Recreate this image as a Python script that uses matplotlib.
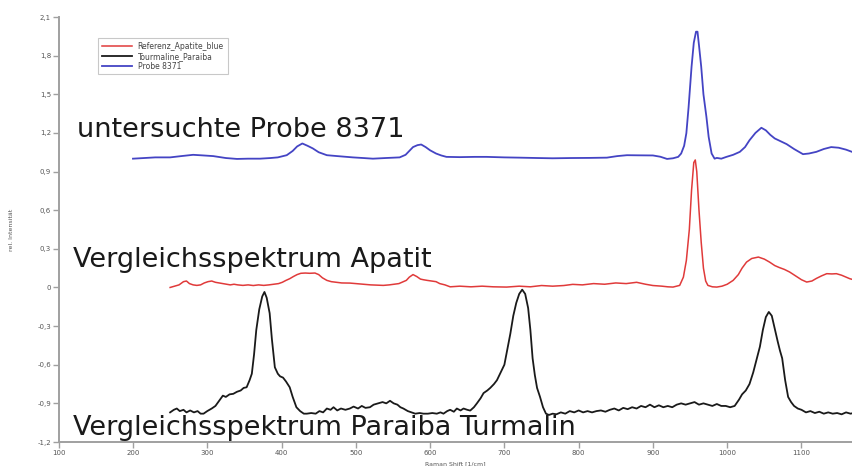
import matplotlib
matplotlib.use("Agg")
import matplotlib.pyplot as plt
from matplotlib.ticker import FuncFormatter, MultipleLocator

# Probe 8371 (blue)
probe_x = [200, 215, 230, 250, 265, 281, 295, 308, 325, 340, 355, 371, 385, 395,
           407, 415, 421, 428, 435, 442, 450, 461, 475, 496, 510, 523, 540, 559,
           567, 572, 577, 583, 588, 594, 600, 608, 615, 622, 640, 660, 676, 700,
           720, 745, 765, 790, 815, 838, 852, 865, 880, 900, 910, 919, 927, 934,
           938, 942, 945, 948, 952, 955, 958, 960, 962, 965, 968, 972, 975, 979,
           983, 986, 992, 999, 1008, 1017, 1024, 1030, 1038, 1046, 1052, 1058,
           1064, 1072, 1080, 1090, 1102, 1110, 1120, 1130, 1140, 1150, 1160, 1168]
probe_y = [1.0, 1.005, 1.01, 1.01, 1.02, 1.03, 1.025, 1.02, 1.005, 0.998, 1.0, 1.0,
           1.005, 1.01, 1.027, 1.06, 1.095, 1.118, 1.1, 1.08, 1.05, 1.027, 1.02,
           1.01, 1.005, 1.0, 1.005, 1.01, 1.03, 1.06, 1.09, 1.105, 1.11, 1.09,
           1.065, 1.04, 1.025, 1.014, 1.012, 1.014, 1.014, 1.01, 1.008, 1.005,
           1.003, 1.005, 1.006, 1.008, 1.02, 1.027, 1.026, 1.025, 1.015, 0.998,
           1.003, 1.014, 1.04, 1.1, 1.198, 1.4, 1.714, 1.9, 1.986, 1.986, 1.88,
           1.714, 1.5, 1.325, 1.17, 1.04, 1.0, 1.006, 1.0, 1.014, 1.03, 1.053,
           1.09, 1.143, 1.2, 1.24, 1.22, 1.185, 1.157, 1.135, 1.113, 1.075, 1.035,
           1.04, 1.053, 1.075, 1.09, 1.085, 1.07, 1.053]

# Referenz Apatit (red)
apatit_x = [250, 256, 262, 268, 272, 276, 281, 286, 291, 296, 301, 306, 311, 316,
            321, 326, 331, 336, 341, 348, 355, 362, 369, 376, 383, 390, 396, 401,
            406, 411, 416, 421, 426, 432, 438, 445, 450, 455, 461, 467, 474, 481,
            492, 500, 510, 520, 530, 537, 545, 552, 558, 564, 568, 572, 577, 582,
            587, 591, 596, 602, 608, 613, 620, 627, 640, 655, 670, 685, 703, 720,
            735, 750, 765, 780, 792, 805, 820, 835, 850, 864, 878, 890, 900, 912,
            920, 927, 936, 941, 945, 949, 952, 955, 957, 959, 962, 965, 968, 971,
            974, 980, 986, 993, 1000, 1008, 1015, 1020, 1026, 1033, 1042, 1050,
            1057, 1064, 1070, 1077, 1084, 1092, 1100, 1107, 1114, 1120, 1127, 1134,
            1141, 1147, 1154, 1160, 1165, 1170]
apatit_y = [0.0, 0.01, 0.02, 0.045, 0.05, 0.03, 0.02, 0.016, 0.02, 0.035, 0.045,
            0.05, 0.04, 0.035, 0.03, 0.025, 0.02, 0.025, 0.02, 0.016, 0.02, 0.015,
            0.02, 0.016, 0.02, 0.025, 0.03, 0.04, 0.055, 0.068, 0.085, 0.1, 0.11,
            0.112, 0.11, 0.112, 0.1, 0.075, 0.055, 0.045, 0.04, 0.035, 0.034, 0.03,
            0.025, 0.02, 0.018, 0.016, 0.02, 0.025, 0.03, 0.045, 0.055, 0.08, 0.1,
            0.085, 0.065, 0.06, 0.055, 0.05, 0.045, 0.03, 0.02, 0.005, 0.01, 0.005,
            0.01, 0.005, 0.003, 0.01, 0.005, 0.015, 0.01, 0.015, 0.024, 0.02, 0.03,
            0.025, 0.035, 0.03, 0.04, 0.025, 0.015, 0.01, 0.005, 0.003, 0.016, 0.08,
            0.21, 0.45, 0.755, 0.97, 0.99, 0.9, 0.6, 0.35, 0.15, 0.05, 0.016, 0.005,
            0.003, 0.01, 0.025, 0.055, 0.1, 0.15, 0.197, 0.225, 0.236, 0.22, 0.197,
            0.17, 0.155, 0.14, 0.12, 0.09, 0.06, 0.042, 0.05, 0.07, 0.09, 0.107,
            0.105, 0.107, 0.095, 0.08, 0.068, 0.06]

# Tourmaline Paraiba (black)
turmalin_x = [250, 255, 259, 263, 268, 272, 277, 282, 287, 291, 295, 300, 306, 311,
              316, 321, 325, 330, 335, 340, 345, 349, 353, 357, 360, 363, 366, 370,
              374, 377, 380, 384, 387, 391, 395, 398, 402, 406, 411, 415, 420, 425,
              430, 434, 440, 446, 451, 456, 461, 466, 470, 475, 480, 486, 492, 497,
              503, 508, 513, 519, 524, 530, 536, 541, 546, 551, 556, 560, 564, 570,
              575, 580, 586, 591, 597, 603, 609, 614, 618, 623, 627, 632, 636, 641,
              645, 650, 654, 659, 663, 668, 672, 677, 681, 686, 690, 695, 700, 704,
              708, 712, 716, 720, 724, 728, 732, 735, 738, 741, 744, 748, 752, 756,
              760, 765, 770, 776, 782, 788, 794, 800, 806, 812, 818, 824, 830, 836,
              842, 848, 854, 860, 866, 872, 878, 884, 890, 896, 902, 908, 914, 920,
              926, 932, 938, 944, 950, 956, 962, 968, 974, 980, 986, 992, 998, 1004,
              1010, 1016, 1020, 1025, 1030, 1035, 1040, 1044, 1048, 1052, 1056, 1060,
              1064, 1068, 1071, 1074, 1078, 1082, 1086, 1090, 1095, 1100, 1106, 1112,
              1118, 1124, 1130, 1136, 1142, 1148, 1154, 1160, 1166, 1170]
turmalin_y = [-0.97, -0.95, -0.94, -0.96, -0.95, -0.97, -0.955, -0.97, -0.96, -0.98,
              -0.98, -0.96, -0.94, -0.92, -0.88, -0.84, -0.85, -0.83, -0.826, -0.81,
              -0.8, -0.78, -0.775, -0.72, -0.67, -0.52, -0.33, -0.17, -0.07, -0.035,
              -0.08, -0.2, -0.4, -0.62, -0.67, -0.69, -0.7, -0.73, -0.775, -0.85,
              -0.93, -0.96, -0.98, -0.98, -0.975, -0.98, -0.96, -0.97, -0.94, -0.95,
              -0.93, -0.955, -0.94, -0.95, -0.94, -0.925, -0.94, -0.92, -0.935,
              -0.93, -0.91, -0.9, -0.89, -0.9, -0.88, -0.9, -0.91, -0.93, -0.94,
              -0.96, -0.97, -0.98, -0.975, -0.98, -0.98, -0.975, -0.98, -0.97, -0.98,
              -0.96, -0.95, -0.965, -0.94, -0.955, -0.94, -0.95, -0.956, -0.93, -0.9,
              -0.86, -0.82, -0.8, -0.78, -0.75, -0.72, -0.66, -0.6, -0.48, -0.36,
              -0.22, -0.12, -0.05, -0.017, -0.05, -0.16, -0.33, -0.55, -0.68, -0.78,
              -0.85, -0.93, -0.98, -0.99, -0.98, -0.985, -0.97, -0.98, -0.96, -0.97,
              -0.955, -0.97, -0.96, -0.97, -0.96, -0.955, -0.965, -0.95, -0.94,
              -0.955, -0.935, -0.945, -0.93, -0.94, -0.92, -0.93, -0.91, -0.93,
              -0.915, -0.93, -0.92, -0.93, -0.91, -0.9, -0.91, -0.9, -0.89, -0.91,
              -0.9, -0.91, -0.92, -0.905, -0.92, -0.92, -0.93, -0.92, -0.87, -0.83,
              -0.8, -0.75, -0.66, -0.55, -0.46, -0.33, -0.23, -0.19, -0.22, -0.32,
              -0.42, -0.49, -0.55, -0.72, -0.85, -0.89, -0.92, -0.94, -0.95, -0.97,
              -0.96, -0.975, -0.965, -0.98, -0.97, -0.98, -0.975, -0.985, -0.97,
              -0.98, -0.975]

x_ticks = [100, 200, 300, 400, 500, 600, 700, 800, 900, 1000, 1100]

plt.rcParams['font.family'] = 'DejaVu Sans'
fig = plt.figure(figsize=(8.52, 4.66), dpi=100)
ax = fig.add_axes([0.0689, 0.0515, 0.9311, 0.912])

ax.plot(apatit_x, apatit_y, color="#e03a3a", linewidth=1.1, label="Referenz_Apatite_blue")
ax.plot(turmalin_x, turmalin_y, color="#1a1a1a", linewidth=1.3, label="Tourmaline_Paraiba")
ax.plot(probe_x, probe_y, color="#4444c4", linewidth=1.3, label="Probe 8371")

ax.set_xlim(100, 1168)
ax.set_ylim(-1.2, 2.1)
ax.set_xticks(x_ticks)
ax.yaxis.set_major_locator(MultipleLocator(0.3))
ax.yaxis.set_major_formatter(FuncFormatter(
    lambda v, pos: "0" if abs(v) < 1e-9 else f"{v:.1f}".replace(".", ",")))

for side in ['top', 'right']:
    ax.spines[side].set_visible(False)
for side in ['left', 'bottom']:
    ax.spines[side].set_color('#a0a0a0')
    ax.spines[side].set_linewidth(1.4)
ax.tick_params(axis='both', colors='#a0a0a0', labelcolor='#555555',
               labelsize=5, length=4, width=1, pad=1.5)

ax.set_xlabel("Raman Shift [1/cm]", fontsize=4.5, color='#555555', labelpad=4)
ax.set_ylabel("rel. Intensität", fontsize=4.5, color='#555555', labelpad=17)

ax.text(124, 1.167, "untersuchte Probe 8371", fontsize=19.5, color='#1a1a1a', va='baseline')
ax.text(119, 0.158, "Vergleichsspektrum Apatit", fontsize=19.5, color='#1a1a1a', va='baseline')
ax.text(119, -1.143, "Vergleichsspektrum Paraiba Turmalin", fontsize=19.5,
        color='#1a1a1a', va='baseline')

leg = ax.legend(loc='upper left', bbox_to_anchor=(0.115, 0.918),
                bbox_transform=fig.transFigure, fontsize=5.5, frameon=True,
                fancybox=False, handlelength=4.0, labelspacing=0.1,
                borderpad=0.5, handletextpad=0.7, borderaxespad=0)
leg.get_frame().set_edgecolor('#bbbbbb')
leg.get_frame().set_linewidth(0.8)
for t in leg.get_texts():
    t.set_color('#444444')

fig.savefig("out.png", dpi=100)
